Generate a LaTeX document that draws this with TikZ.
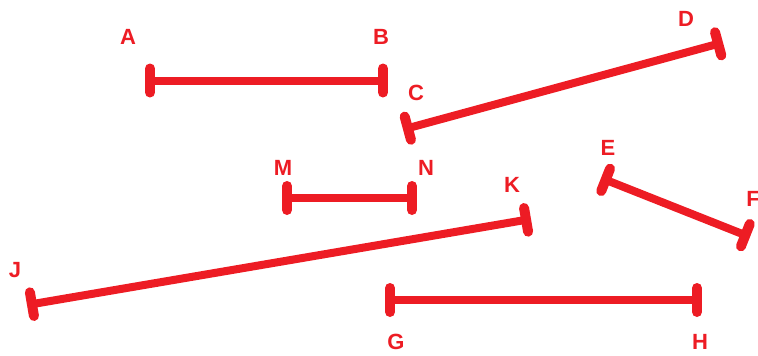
\documentclass[tikz,border=0pt]{standalone}
\usepackage{fontspec}
\setmainfont{Liberation Sans}
\usetikzlibrary{arrows.meta}
\definecolor{paintred}{RGB}{237,28,36}

\begin{document}
\begin{tikzpicture}[
  x=1pt, y=-1pt,
  seg/.style={paintred, line width=8pt, line cap=round,
    {Bar[width=24pt,line width=2pt 1,line cap=round]}-{Bar[width=24pt,line width=2pt 1,line cap=round]}},
  lbl/.style={paintred, font=\fontsize{22}{24}\selectfont\bfseries, inner sep=0pt},
]
\useasboundingbox (0,0) rectangle (758,356);

% end points
\coordinate (a) at (145,80.5);
\coordinate (b) at (388,80.5);
\coordinate (c) at (403,129.5);
\coordinate (d) at (723,42.5);
\coordinate (m) at (282,198);
\coordinate (n) at (417,198);
\coordinate (e) at (601,178);
\coordinate (f) at (750,237);
\coordinate (j) at (27,305);
\coordinate (k) at (531,219);
\coordinate (g) at (385,300);
\coordinate (h) at (702,300);

\draw[seg] (a) -- (b);
\draw[seg] (c) -- (d);
\draw[seg] (m) -- (n);
\draw[seg] (e) -- (f);
\draw[seg] (j) -- (k);
\draw[seg] (g) -- (h);

% labels
\node[lbl] (la) at (128,37) {A};
\node[lbl] (lb) at (381,37) {B};
\node[lbl] (lc) at (416,93) {C};
\node[lbl] (ld) at (686,19) {D};
\node[lbl] (le) at (608,148) {E};
\node[lbl] (lf) at (753,199) {F};
\node[lbl] (lg) at (396,342) {G};
\node[lbl] (lh) at (700,342) {H};
\node[lbl] (lj) at (15,270) {J};
\node[lbl] (lk) at (512,185) {K};
\node[lbl] (lm) at (283,168) {M};
\node[lbl] (ln) at (426,168) {N};

\end{tikzpicture}
\end{document}
